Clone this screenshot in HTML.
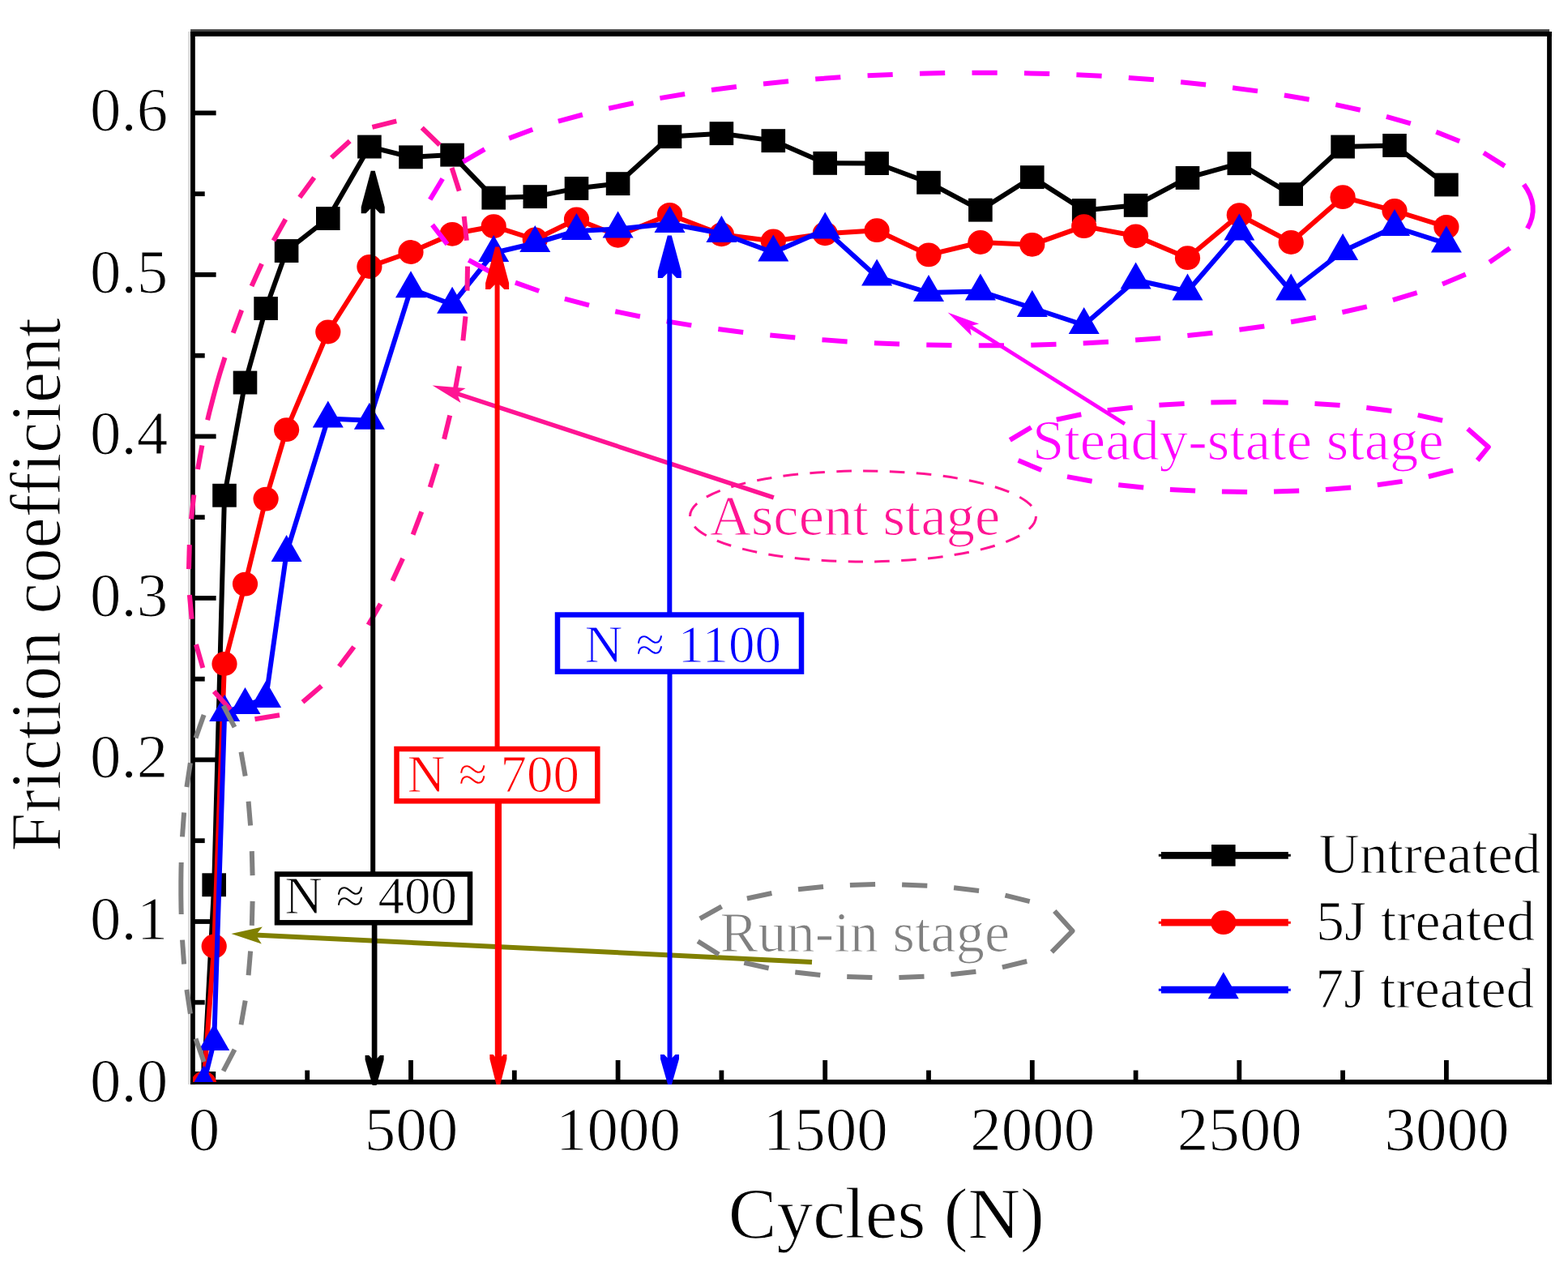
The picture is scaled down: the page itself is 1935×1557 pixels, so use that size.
<!DOCTYPE html>
<html lang="en"><head><meta charset="utf-8"><title>Friction coefficient vs cycles</title>
<style>html,body{margin:0;padding:0;background:#fff}body{width:1935px;height:1557px;overflow:hidden}svg{display:block}text{font-family:"Liberation Serif",serif;stroke:#fff;stroke-width:1.1px;paint-order:fill stroke;stroke-linejoin:round}</style>
</head><body>
<svg width="1935" height="1557" viewBox="0 0 1935 1557" role="img" aria-label="Friction coefficient versus cycles">
<defs><clipPath id="plot"><rect x="238" y="40" width="1674" height="1295"/></clipPath></defs>
<rect x="0" y="0" width="1935" height="1557" fill="#fff"/>
<g stroke="#000" fill="none">
<g stroke="none">
<rect x="235.1" y="36.1" width="1677" height="3" fill="#444"/>
<rect x="232" y="39" width="3.2" height="1298.9" fill="#ddd"/>
<rect x="235.1" y="39" width="1679.8" height="5.9" fill="#000"/>
<rect x="235.1" y="1332" width="1679.8" height="5.9" fill="#000"/>
<rect x="235.1" y="39" width="5.7" height="1298.9" fill="#000"/>
<rect x="1909.1" y="39" width="5.8" height="1298.9" fill="#000"/>
</g>
<g stroke-width="5.8">
<line x1="238" y1="1137.0" x2="266.6" y2="1137.0"/>
<line x1="238" y1="937.4" x2="266.6" y2="937.4"/>
<line x1="238" y1="737.9" x2="266.6" y2="737.9"/>
<line x1="238" y1="538.4" x2="266.6" y2="538.4"/>
<line x1="238" y1="338.9" x2="266.6" y2="338.9"/>
<line x1="238" y1="139.4" x2="266.6" y2="139.4"/>
<line x1="238" y1="1236.7" x2="252.7" y2="1236.7"/>
<line x1="238" y1="1037.2" x2="252.7" y2="1037.2"/>
<line x1="238" y1="837.7" x2="252.7" y2="837.7"/>
<line x1="238" y1="638.2" x2="252.7" y2="638.2"/>
<line x1="238" y1="438.7" x2="252.7" y2="438.7"/>
<line x1="238" y1="239.2" x2="252.7" y2="239.2"/>
<line x1="251.4" y1="1335" x2="251.4" y2="1308"/>
<line x1="507.0" y1="1335" x2="507.0" y2="1308"/>
<line x1="762.6" y1="1335" x2="762.6" y2="1308"/>
<line x1="1018.2" y1="1335" x2="1018.2" y2="1308"/>
<line x1="1273.8" y1="1335" x2="1273.8" y2="1308"/>
<line x1="1529.3" y1="1335" x2="1529.3" y2="1308"/>
<line x1="1784.9" y1="1335" x2="1784.9" y2="1308"/>
<line x1="379.2" y1="1335" x2="379.2" y2="1320.5"/>
<line x1="634.8" y1="1335" x2="634.8" y2="1320.5"/>
<line x1="890.4" y1="1335" x2="890.4" y2="1320.5"/>
<line x1="1146.0" y1="1335" x2="1146.0" y2="1320.5"/>
<line x1="1401.6" y1="1335" x2="1401.6" y2="1320.5"/>
<line x1="1657.1" y1="1335" x2="1657.1" y2="1320.5"/>
</g></g>
<g clip-path="url(#plot)">
<g id="s-black">
<g fill="none" stroke="#000" stroke-linecap="round">
<line x1="251.4" y1="1336.5" x2="264.2" y2="1091.8" stroke-width="6.00"/>
<line x1="264.2" y1="1091.8" x2="277.0" y2="611.3" stroke-width="6.00"/>
<line x1="277.0" y1="611.3" x2="302.5" y2="472.0" stroke-width="6.00"/>
<line x1="302.5" y1="472.0" x2="328.1" y2="380.5" stroke-width="6.00"/>
<line x1="328.1" y1="380.5" x2="353.6" y2="309.5" stroke-width="6.00"/>
<line x1="353.6" y1="309.5" x2="404.8" y2="269.5" stroke-width="6.00"/>
<line x1="404.8" y1="269.5" x2="455.9" y2="181.0" stroke-width="6.00"/>
<line x1="455.9" y1="181.0" x2="507.0" y2="193.8" stroke-width="6.00"/>
<line x1="507.0" y1="193.8" x2="558.1" y2="191.1" stroke-width="6.00"/>
<line x1="558.1" y1="191.1" x2="609.2" y2="244.1" stroke-width="6.00"/>
<line x1="609.2" y1="244.1" x2="660.3" y2="242.6" stroke-width="6.00"/>
<line x1="660.3" y1="242.6" x2="711.5" y2="232.4" stroke-width="6.00"/>
<line x1="711.5" y1="232.4" x2="762.6" y2="226.6" stroke-width="6.00"/>
<line x1="762.6" y1="226.6" x2="826.5" y2="168.6" stroke-width="6.00"/>
<line x1="826.5" y1="168.6" x2="890.4" y2="164.7" stroke-width="6.00"/>
<line x1="890.4" y1="164.7" x2="954.3" y2="173.6" stroke-width="6.00"/>
<line x1="954.3" y1="173.6" x2="1018.2" y2="201.3" stroke-width="6.00"/>
<line x1="1018.2" y1="201.3" x2="1082.1" y2="201.5" stroke-width="6.00"/>
<line x1="1082.1" y1="201.5" x2="1146.0" y2="225.2" stroke-width="6.00"/>
<line x1="1146.0" y1="225.2" x2="1209.9" y2="259.1" stroke-width="6.00"/>
<line x1="1209.9" y1="259.1" x2="1273.8" y2="218.6" stroke-width="6.00"/>
<line x1="1273.8" y1="218.6" x2="1337.7" y2="259.5" stroke-width="6.00"/>
<line x1="1337.7" y1="259.5" x2="1401.6" y2="253.3" stroke-width="6.00"/>
<line x1="1401.6" y1="253.3" x2="1465.5" y2="219.4" stroke-width="6.00"/>
<line x1="1465.5" y1="219.4" x2="1529.3" y2="201.7" stroke-width="6.00"/>
<line x1="1529.3" y1="201.7" x2="1593.2" y2="239.6" stroke-width="6.00"/>
<line x1="1593.2" y1="239.6" x2="1657.1" y2="181.0" stroke-width="6.00"/>
<line x1="1657.1" y1="181.0" x2="1721.0" y2="179.4" stroke-width="6.00"/>
<line x1="1721.0" y1="179.4" x2="1784.9" y2="227.9" stroke-width="6.00"/>
</g>
<rect x="236.6" y="1322.0" width="29.6" height="28.9" fill="#000"/>
<rect x="249.4" y="1077.3" width="29.6" height="28.9" fill="#000"/>
<rect x="262.2" y="596.8" width="29.6" height="28.9" fill="#000"/>
<rect x="287.7" y="457.6" width="29.6" height="28.9" fill="#000"/>
<rect x="313.3" y="366.1" width="29.6" height="28.9" fill="#000"/>
<rect x="338.8" y="295.1" width="29.6" height="28.9" fill="#000"/>
<rect x="390.0" y="255.1" width="29.6" height="28.9" fill="#000"/>
<rect x="441.1" y="166.6" width="29.6" height="28.9" fill="#000"/>
<rect x="492.2" y="179.4" width="29.6" height="28.9" fill="#000"/>
<rect x="543.3" y="176.7" width="29.6" height="28.9" fill="#000"/>
<rect x="594.4" y="229.7" width="29.6" height="28.9" fill="#000"/>
<rect x="645.5" y="228.2" width="29.6" height="28.9" fill="#000"/>
<rect x="696.7" y="218.0" width="29.6" height="28.9" fill="#000"/>
<rect x="747.8" y="212.2" width="29.6" height="28.9" fill="#000"/>
<rect x="811.7" y="154.2" width="29.6" height="28.9" fill="#000"/>
<rect x="875.6" y="150.2" width="29.6" height="28.9" fill="#000"/>
<rect x="939.5" y="159.2" width="29.6" height="28.9" fill="#000"/>
<rect x="1003.4" y="186.9" width="29.6" height="28.9" fill="#000"/>
<rect x="1067.3" y="187.1" width="29.6" height="28.9" fill="#000"/>
<rect x="1131.2" y="210.8" width="29.6" height="28.9" fill="#000"/>
<rect x="1195.1" y="244.7" width="29.6" height="28.9" fill="#000"/>
<rect x="1259.0" y="204.2" width="29.6" height="28.9" fill="#000"/>
<rect x="1322.9" y="245.1" width="29.6" height="28.9" fill="#000"/>
<rect x="1386.8" y="238.9" width="29.6" height="28.9" fill="#000"/>
<rect x="1450.7" y="205.0" width="29.6" height="28.9" fill="#000"/>
<rect x="1514.5" y="187.2" width="29.6" height="28.9" fill="#000"/>
<rect x="1578.4" y="225.2" width="29.6" height="28.9" fill="#000"/>
<rect x="1642.3" y="166.6" width="29.6" height="28.9" fill="#000"/>
<rect x="1706.2" y="165.0" width="29.6" height="28.9" fill="#000"/>
<rect x="1770.1" y="213.5" width="29.6" height="28.9" fill="#000"/>
</g>
<g id="s-red">
<g fill="none" stroke="#ff0000" stroke-linecap="round">
<line x1="251.4" y1="1336.5" x2="264.2" y2="1167.5" stroke-width="6.00"/>
<line x1="264.2" y1="1167.5" x2="277.0" y2="819.0" stroke-width="6.00"/>
<line x1="277.0" y1="819.0" x2="302.5" y2="720.6" stroke-width="6.00"/>
<line x1="302.5" y1="720.6" x2="328.1" y2="615.6" stroke-width="6.00"/>
<line x1="328.1" y1="615.6" x2="353.6" y2="530.2" stroke-width="6.00"/>
<line x1="353.6" y1="530.2" x2="404.8" y2="409.5" stroke-width="6.00"/>
<line x1="404.8" y1="409.5" x2="455.9" y2="329.0" stroke-width="6.00"/>
<line x1="455.9" y1="329.0" x2="507.0" y2="311.0" stroke-width="6.00"/>
<line x1="507.0" y1="311.0" x2="558.1" y2="288.8" stroke-width="6.00"/>
<line x1="558.1" y1="288.8" x2="609.2" y2="279.2" stroke-width="6.00"/>
<line x1="609.2" y1="279.2" x2="660.3" y2="295.5" stroke-width="6.00"/>
<line x1="660.3" y1="295.5" x2="711.5" y2="270.5" stroke-width="6.00"/>
<line x1="711.5" y1="270.5" x2="762.6" y2="290.8" stroke-width="6.00"/>
<line x1="762.6" y1="290.8" x2="826.5" y2="264.8" stroke-width="6.00"/>
<line x1="826.5" y1="264.8" x2="890.4" y2="289.3" stroke-width="6.00"/>
<line x1="890.4" y1="289.3" x2="954.3" y2="297.5" stroke-width="6.00"/>
<line x1="954.3" y1="297.5" x2="1018.2" y2="288.3" stroke-width="6.00"/>
<line x1="1018.2" y1="288.3" x2="1082.1" y2="284.2" stroke-width="6.00"/>
<line x1="1082.1" y1="284.2" x2="1146.0" y2="314.4" stroke-width="6.00"/>
<line x1="1146.0" y1="314.4" x2="1209.9" y2="299.0" stroke-width="6.00"/>
<line x1="1209.9" y1="299.0" x2="1273.8" y2="301.8" stroke-width="6.00"/>
<line x1="1273.8" y1="301.8" x2="1337.7" y2="279.1" stroke-width="6.00"/>
<line x1="1337.7" y1="279.1" x2="1401.6" y2="291.3" stroke-width="6.00"/>
<line x1="1401.6" y1="291.3" x2="1465.5" y2="318.2" stroke-width="6.00"/>
<line x1="1465.5" y1="318.2" x2="1529.3" y2="265.2" stroke-width="6.00"/>
<line x1="1529.3" y1="265.2" x2="1593.2" y2="299.0" stroke-width="6.00"/>
<line x1="1593.2" y1="299.0" x2="1657.1" y2="243.2" stroke-width="6.00"/>
<line x1="1657.1" y1="243.2" x2="1721.0" y2="260.0" stroke-width="6.00"/>
<line x1="1721.0" y1="260.0" x2="1784.9" y2="279.9" stroke-width="6.00"/>
</g>
<ellipse cx="251.4" cy="1336.5" rx="15.6" ry="14.9" fill="#ff0000"/>
<ellipse cx="264.2" cy="1167.5" rx="15.6" ry="14.9" fill="#ff0000"/>
<ellipse cx="277.0" cy="819.0" rx="15.6" ry="14.9" fill="#ff0000"/>
<ellipse cx="302.5" cy="720.6" rx="15.6" ry="14.9" fill="#ff0000"/>
<ellipse cx="328.1" cy="615.6" rx="15.6" ry="14.9" fill="#ff0000"/>
<ellipse cx="353.6" cy="530.2" rx="15.6" ry="14.9" fill="#ff0000"/>
<ellipse cx="404.8" cy="409.5" rx="15.6" ry="14.9" fill="#ff0000"/>
<ellipse cx="455.9" cy="329.0" rx="15.6" ry="14.9" fill="#ff0000"/>
<ellipse cx="507.0" cy="311.0" rx="15.6" ry="14.9" fill="#ff0000"/>
<ellipse cx="558.1" cy="288.8" rx="15.6" ry="14.9" fill="#ff0000"/>
<ellipse cx="609.2" cy="279.2" rx="15.6" ry="14.9" fill="#ff0000"/>
<ellipse cx="660.3" cy="295.5" rx="15.6" ry="14.9" fill="#ff0000"/>
<ellipse cx="711.5" cy="270.5" rx="15.6" ry="14.9" fill="#ff0000"/>
<ellipse cx="762.6" cy="290.8" rx="15.6" ry="14.9" fill="#ff0000"/>
<ellipse cx="826.5" cy="264.8" rx="15.6" ry="14.9" fill="#ff0000"/>
<ellipse cx="890.4" cy="289.3" rx="15.6" ry="14.9" fill="#ff0000"/>
<ellipse cx="954.3" cy="297.5" rx="15.6" ry="14.9" fill="#ff0000"/>
<ellipse cx="1018.2" cy="288.3" rx="15.6" ry="14.9" fill="#ff0000"/>
<ellipse cx="1082.1" cy="284.2" rx="15.6" ry="14.9" fill="#ff0000"/>
<ellipse cx="1146.0" cy="314.4" rx="15.6" ry="14.9" fill="#ff0000"/>
<ellipse cx="1209.9" cy="299.0" rx="15.6" ry="14.9" fill="#ff0000"/>
<ellipse cx="1273.8" cy="301.8" rx="15.6" ry="14.9" fill="#ff0000"/>
<ellipse cx="1337.7" cy="279.1" rx="15.6" ry="14.9" fill="#ff0000"/>
<ellipse cx="1401.6" cy="291.3" rx="15.6" ry="14.9" fill="#ff0000"/>
<ellipse cx="1465.5" cy="318.2" rx="15.6" ry="14.9" fill="#ff0000"/>
<ellipse cx="1529.3" cy="265.2" rx="15.6" ry="14.9" fill="#ff0000"/>
<ellipse cx="1593.2" cy="299.0" rx="15.6" ry="14.9" fill="#ff0000"/>
<ellipse cx="1657.1" cy="243.2" rx="15.6" ry="14.9" fill="#ff0000"/>
<ellipse cx="1721.0" cy="260.0" rx="15.6" ry="14.9" fill="#ff0000"/>
<ellipse cx="1784.9" cy="279.9" rx="15.6" ry="14.9" fill="#ff0000"/>
</g>
<g id="s-blue">
<g fill="none" stroke="#0000ff" stroke-linecap="round">
<line x1="251.4" y1="1336.5" x2="264.2" y2="1285.0" stroke-width="6.00"/>
<line x1="264.2" y1="1285.0" x2="277.2" y2="879.0" stroke-width="6.00"/>
<line x1="277.2" y1="879.0" x2="302.5" y2="870.0" stroke-width="6.00"/>
<line x1="302.5" y1="870.0" x2="328.1" y2="862.0" stroke-width="6.00"/>
<line x1="328.1" y1="862.0" x2="353.6" y2="682.0" stroke-width="6.00"/>
<line x1="353.6" y1="682.0" x2="404.8" y2="516.5" stroke-width="6.00"/>
<line x1="404.8" y1="516.5" x2="455.9" y2="518.7" stroke-width="6.00"/>
<line x1="455.9" y1="518.7" x2="507.0" y2="356.3" stroke-width="6.00"/>
<line x1="507.0" y1="356.3" x2="558.1" y2="375.7" stroke-width="6.00"/>
<line x1="558.1" y1="375.7" x2="609.2" y2="312.0" stroke-width="6.00"/>
<line x1="609.2" y1="312.0" x2="660.3" y2="300.0" stroke-width="6.00"/>
<line x1="660.3" y1="300.0" x2="711.5" y2="285.0" stroke-width="6.00"/>
<line x1="711.5" y1="285.0" x2="762.6" y2="282.5" stroke-width="6.00"/>
<line x1="762.6" y1="282.5" x2="826.5" y2="276.0" stroke-width="6.00"/>
<line x1="826.5" y1="276.0" x2="890.4" y2="288.0" stroke-width="6.00"/>
<line x1="890.4" y1="288.0" x2="954.3" y2="311.5" stroke-width="6.00"/>
<line x1="954.3" y1="311.5" x2="1018.2" y2="283.6" stroke-width="6.00"/>
<line x1="1018.2" y1="283.6" x2="1082.1" y2="341.5" stroke-width="6.00"/>
<line x1="1082.1" y1="341.5" x2="1146.0" y2="361.0" stroke-width="6.00"/>
<line x1="1146.0" y1="361.0" x2="1209.9" y2="359.5" stroke-width="6.00"/>
<line x1="1209.9" y1="359.5" x2="1273.8" y2="380.0" stroke-width="6.00"/>
<line x1="1273.8" y1="380.0" x2="1337.7" y2="401.0" stroke-width="6.00"/>
<line x1="1337.7" y1="401.0" x2="1401.6" y2="345.5" stroke-width="6.00"/>
<line x1="1401.6" y1="345.5" x2="1465.5" y2="359.5" stroke-width="6.00"/>
<line x1="1465.5" y1="359.5" x2="1529.3" y2="285.5" stroke-width="6.00"/>
<line x1="1529.3" y1="285.5" x2="1593.2" y2="359.5" stroke-width="6.00"/>
<line x1="1593.2" y1="359.5" x2="1657.1" y2="310.0" stroke-width="6.00"/>
<line x1="1657.1" y1="310.0" x2="1721.0" y2="280.0" stroke-width="6.00"/>
<line x1="1721.0" y1="280.0" x2="1784.9" y2="300.5" stroke-width="6.00"/>
</g>
<polygon points="251.4,1314.5 232.4,1347.5 270.4,1347.5" fill="#0000ff"/>
<polygon points="264.2,1263.0 245.2,1296.0 283.2,1296.0" fill="#0000ff"/>
<polygon points="277.2,857.0 258.2,890.0 296.2,890.0" fill="#0000ff"/>
<polygon points="302.5,848.0 283.5,881.0 321.5,881.0" fill="#0000ff"/>
<polygon points="328.1,840.0 309.1,873.0 347.1,873.0" fill="#0000ff"/>
<polygon points="353.6,660.0 334.6,693.0 372.6,693.0" fill="#0000ff"/>
<polygon points="404.8,494.5 385.8,527.5 423.8,527.5" fill="#0000ff"/>
<polygon points="455.9,496.7 436.9,529.7 474.9,529.7" fill="#0000ff"/>
<polygon points="507.0,334.3 488.0,367.3 526.0,367.3" fill="#0000ff"/>
<polygon points="558.1,353.7 539.1,386.7 577.1,386.7" fill="#0000ff"/>
<polygon points="609.2,290.0 590.2,323.0 628.2,323.0" fill="#0000ff"/>
<polygon points="660.3,278.0 641.3,311.0 679.3,311.0" fill="#0000ff"/>
<polygon points="711.5,263.0 692.5,296.0 730.5,296.0" fill="#0000ff"/>
<polygon points="762.6,260.5 743.6,293.5 781.6,293.5" fill="#0000ff"/>
<polygon points="826.5,254.0 807.5,287.0 845.5,287.0" fill="#0000ff"/>
<polygon points="890.4,266.0 871.4,299.0 909.4,299.0" fill="#0000ff"/>
<polygon points="954.3,289.5 935.3,322.5 973.3,322.5" fill="#0000ff"/>
<polygon points="1018.2,261.6 999.2,294.6 1037.2,294.6" fill="#0000ff"/>
<polygon points="1082.1,319.5 1063.1,352.5 1101.1,352.5" fill="#0000ff"/>
<polygon points="1146.0,339.0 1127.0,372.0 1165.0,372.0" fill="#0000ff"/>
<polygon points="1209.9,337.5 1190.9,370.5 1228.9,370.5" fill="#0000ff"/>
<polygon points="1273.8,358.0 1254.8,391.0 1292.8,391.0" fill="#0000ff"/>
<polygon points="1337.7,379.0 1318.7,412.0 1356.7,412.0" fill="#0000ff"/>
<polygon points="1401.6,323.5 1382.6,356.5 1420.6,356.5" fill="#0000ff"/>
<polygon points="1465.5,337.5 1446.5,370.5 1484.5,370.5" fill="#0000ff"/>
<polygon points="1529.3,263.5 1510.3,296.5 1548.3,296.5" fill="#0000ff"/>
<polygon points="1593.2,337.5 1574.2,370.5 1612.2,370.5" fill="#0000ff"/>
<polygon points="1657.1,288.0 1638.1,321.0 1676.1,321.0" fill="#0000ff"/>
<polygon points="1721.0,258.0 1702.0,291.0 1740.0,291.0" fill="#0000ff"/>
<polygon points="1784.9,278.5 1765.9,311.5 1803.9,311.5" fill="#0000ff"/>
</g>
</g>
<g font-size="77" fill="#000">
<text x="111" y="1358.5">0.0</text>
<text x="111" y="1159.0">0.1</text>
<text x="111" y="959.4">0.2</text>
<text x="111" y="759.9">0.3</text>
<text x="111" y="560.4">0.4</text>
<text x="111" y="360.9">0.5</text>
<text x="111" y="161.4">0.6</text>
<text x="251.9" y="1419" text-anchor="middle">0</text>
<text x="507.5" y="1419" text-anchor="middle">500</text>
<text x="763.1" y="1419" text-anchor="middle">1000</text>
<text x="1018.7" y="1419" text-anchor="middle">1500</text>
<text x="1274.3" y="1419" text-anchor="middle">2000</text>
<text x="1529.8" y="1419" text-anchor="middle">2500</text>
<text x="1785.4" y="1419" text-anchor="middle">3000</text>
</g>
<text x="898.7" y="1527" font-size="89.5" fill="#000">Cycles (N)</text>
<text transform="translate(73.8 1050.5) scale(1.04 1) rotate(-90)" font-size="85.8" fill="#000">Friction coefficient</text>
<g fill="none" stroke="#ff1493" stroke-linejoin="round">
<path d="M256.1,518.3 L258.4,508.6 L260.9,498.9 L263.4,489.2 L266.0,479.5 L268.7,469.8 L271.5,460.2 L274.5,450.6 L277.5,441.0" stroke-width="6.00"/>
<path d="M287.7,410.8 L298.2,382.6" stroke-width="6.00"/>
<path d="M310.5,353.0 L323.0,325.5" stroke-width="6.00"/>
<path d="M337.5,296.9 L352.4,270.6" stroke-width="6.00"/>
<path d="M369.8,243.5 L387.7,219.0" stroke-width="6.00"/>
<path d="M409.0,194.6 L431.7,174.0" stroke-width="6.00"/>
<path d="M459.4,156.8 L489.3,149.3" stroke-width="6.00"/>
<path d="M520.7,157.6 L542.6,178.8" stroke-width="6.00"/>
<path d="M557.6,207.0 L566.7,235.7" stroke-width="6.00"/>
<path d="M572.7,267.0 L575.8,296.8" stroke-width="6.00"/>
<path d="M577.0,328.6 L576.5,358.6" stroke-width="6.00"/>
<path d="M574.5,390.4 L571.4,420.2" stroke-width="6.00"/>
<path d="M567.0,451.7 L561.7,481.3" stroke-width="6.00"/>
<path d="M555.2,512.5 L548.1,541.7" stroke-width="6.00"/>
<path d="M539.6,572.4 L530.7,601.2" stroke-width="6.00"/>
<path d="M520.3,631.4 L509.6,659.6" stroke-width="6.00"/>
<path d="M497.1,689.0 L484.4,716.4" stroke-width="6.00"/>
<path d="M469.6,744.9 L454.5,771.1" stroke-width="6.00"/>
<path d="M436.8,798.0 L418.5,822.3" stroke-width="6.00"/>
<path d="M396.8,846.2 L373.5,866.2" stroke-width="6.00"/>
<path d="M345.0,882.2 L314.5,887.2" stroke-width="6.00"/>
<path d="M284.3,875.6 L264.1,852.9" stroke-width="6.00"/>
<path d="M250.3,824.0 L242.0,795.1" stroke-width="6.00"/>
<path d="M236.6,763.8 L233.9,733.9" stroke-width="6.00"/>
<path d="M233.0,702.1 L233.8,672.1" stroke-width="6.00"/>
<path d="M236.0,640.4 L239.3,610.5" stroke-width="6.00"/>
<path d="M244.0,579.0 L249.4,549.5" stroke-width="6.00"/>
</g>
<g fill="none" stroke="#808080" stroke-linejoin="round">
<path d="M223.7,1128.0 L223.5,1120.0 L223.4,1112.0 L223.3,1104.0 L223.3,1096.0 L223.3,1088.0 L223.4,1080.0 L223.5,1072.0 L223.7,1064.0" stroke-width="6.00"/>
<path d="M225.0,1032.4 L227.1,1002.5" stroke-width="6.00"/>
<path d="M230.4,971.0 L234.9,941.3" stroke-width="6.00"/>
<path d="M241.5,910.4 L251.6,882.1" stroke-width="6.00"/>
<path d="M275.6,870.6 L289.5,897.1" stroke-width="6.00"/>
<path d="M297.5,927.8 L302.7,957.4" stroke-width="6.00"/>
<path d="M306.6,988.7 L309.1,1018.6" stroke-width="6.00"/>
<path d="M310.8,1050.2 L311.6,1080.2" stroke-width="6.00"/>
<path d="M311.6,1111.8 L310.8,1141.8" stroke-width="6.00"/>
<path d="M309.1,1173.4 L306.6,1203.3" stroke-width="6.00"/>
<path d="M302.7,1234.6 L297.5,1264.2" stroke-width="6.00"/>
<path d="M289.5,1294.9 L275.6,1321.4" stroke-width="6.00"/>
<path d="M251.6,1309.9 L241.5,1281.6" stroke-width="6.00"/>
<path d="M234.9,1250.7 L230.4,1221.0" stroke-width="6.00"/>
<path d="M227.1,1189.5 L225.0,1159.6" stroke-width="6.00"/>
</g>
<g fill="none" stroke="#ff00ff" stroke-linejoin="round">
<path d="M1880.5,227.5 L1884.6,233.6 L1887.9,240.1 L1890.3,246.9 L1891.6,254.1 L1891.7,261.3 L1890.5,268.5 L1888.2,275.3 L1884.9,281.9" stroke-width="6.00"/>
<path d="M1863.4,306.1 L1838.1,323.5" stroke-width="6.00"/>
<path d="M1808.7,338.6 L1780.0,350.4" stroke-width="6.00"/>
<path d="M1748.7,361.2 L1718.9,370.1" stroke-width="6.00"/>
<path d="M1686.8,378.4 L1656.4,385.3" stroke-width="6.00"/>
<path d="M1623.8,391.8 L1593.1,397.3" stroke-width="6.00"/>
<path d="M1560.3,402.5 L1529.4,406.8" stroke-width="6.00"/>
<path d="M1496.4,410.8 L1465.4,414.1" stroke-width="6.00"/>
<path d="M1432.2,417.2 L1401.1,419.6" stroke-width="6.00"/>
<path d="M1367.9,421.8 L1336.7,423.4" stroke-width="6.00"/>
<path d="M1303.5,424.8 L1272.3,425.7" stroke-width="6.00"/>
<path d="M1239.0,426.2 L1207.8,426.3" stroke-width="6.00"/>
<path d="M1174.5,426.1 L1143.3,425.5" stroke-width="6.00"/>
<path d="M1110.0,424.5 L1078.9,423.2" stroke-width="6.00"/>
<path d="M1045.6,421.4 L1014.5,419.2" stroke-width="6.00"/>
<path d="M981.3,416.6 L950.3,413.6" stroke-width="6.00"/>
<path d="M917.2,410.0 L886.3,406.1" stroke-width="6.00"/>
<path d="M853.3,401.4 L822.6,396.4" stroke-width="6.00"/>
<path d="M789.9,390.5 L759.3,384.2" stroke-width="6.00"/>
<path d="M727.0,376.7 L696.9,368.7" stroke-width="6.00"/>
<path d="M665.2,359.0 L635.9,348.6" stroke-width="6.00"/>
<path d="M605.5,335.5 L578.3,320.9" stroke-width="6.00"/>
<path d="M552.0,301.4 L533.5,277.4" stroke-width="6.00"/>
<path d="M530.7,246.2 L546.2,220.5" stroke-width="6.00"/>
<path d="M571.4,199.6 L598.1,184.2" stroke-width="6.00"/>
<path d="M628.2,170.6 L657.3,159.7" stroke-width="6.00"/>
<path d="M688.9,149.7 L718.9,141.5" stroke-width="6.00"/>
<path d="M751.2,133.7 L781.7,127.2" stroke-width="6.00"/>
<path d="M814.4,121.1 L845.1,116.0" stroke-width="6.00"/>
<path d="M878.0,111.1 L908.9,107.1" stroke-width="6.00"/>
<path d="M942.0,103.4 L973.0,100.3" stroke-width="6.00"/>
<path d="M1006.2,97.5 L1037.3,95.3" stroke-width="6.00"/>
<path d="M1070.6,93.3 L1101.7,91.9" stroke-width="6.00"/>
<path d="M1135.0,90.8 L1166.2,90.1" stroke-width="6.00"/>
<path d="M1199.5,89.8 L1230.7,89.8" stroke-width="6.00"/>
<path d="M1264.0,90.3 L1295.2,91.1" stroke-width="6.00"/>
<path d="M1328.4,92.3 L1359.6,93.8" stroke-width="6.00"/>
<path d="M1392.8,95.9 L1423.9,98.2" stroke-width="6.00"/>
<path d="M1457.1,101.2 L1488.1,104.4" stroke-width="6.00"/>
<path d="M1521.1,108.3 L1552.0,112.4" stroke-width="6.00"/>
<path d="M1584.9,117.5 L1615.6,122.7" stroke-width="6.00"/>
<path d="M1648.3,129.1 L1678.7,135.8" stroke-width="6.00"/>
<path d="M1710.9,143.8 L1740.8,152.4" stroke-width="6.00"/>
<path d="M1772.3,162.8 L1801.2,174.2" stroke-width="6.00"/>
<path d="M1830.9,188.5 L1857.0,204.9" stroke-width="6.00"/>
</g>
<line x1="1002.0" y1="1186.9" x2="313.8" y2="1153.5" stroke="#808000" stroke-width="6"/>
<polygon fill="#808000" points="285.4,1152.1 323.9,1143.5 315.8,1153.6 322.8,1164.4"/>
<line x1="954.8" y1="613.8" x2="562.1" y2="485.0" stroke="#ff1493" stroke-width="5.5"/>
<polygon fill="#ff1493" points="533.6,475.6 574.6,479.0 564.0,485.6 568.6,497.1"/>
<line x1="1388.0" y1="523.0" x2="1195.0" y2="401.5" stroke="#ff00ff" stroke-width="4.8"/>
<polygon fill="#ff00ff" points="1169.6,385.5 1208.1,399.4 1196.7,402.5 1198.8,414.3"/>
<line x1="460.2" y1="253.8" x2="460.2" y2="1078" stroke="#000" stroke-width="6"/>
<polygon fill="#000" points="457.7,210.8 445.7,255.4 445.7,263.3 451.5,263.3 457.2,257.5 463.2,257.5 468.9,263.3 474.7,263.3 474.7,255.4 462.7,210.8"/>
<line x1="462.1" y1="1138" x2="462.1" y2="1310" stroke="#000" stroke-width="6.7"/>
<polygon fill="#000" points="459.6,1339.0 450.6,1307.5 450.6,1302.0 455.2,1302.0 459.1,1306.1 465.1,1306.1 469.0,1302.0 473.6,1302.0 473.6,1307.5 464.6,1339.0"/>
<line x1="613.6" y1="347.6" x2="613.6" y2="924" stroke="#ff0000" stroke-width="6"/>
<polygon fill="#ff0000" points="611.1,304.6 599.1,349.2 599.1,357.1 604.9,357.1 610.6,351.3 616.6,351.3 622.3,357.1 628.1,357.1 628.1,349.2 616.1,304.6"/>
<line x1="614.9" y1="988" x2="614.9" y2="1309" stroke="#ff0000" stroke-width="8.2"/>
<polygon fill="#ff0000" points="612.4,1338.0 604.4,1306.5 604.4,1301.0 608.6,1301.0 611.9,1305.1 617.9,1305.1 621.2,1301.0 625.4,1301.0 625.4,1306.5 617.4,1338.0"/>
<line x1="826.3" y1="333.5" x2="826.3" y2="758" stroke="#0000ff" stroke-width="6"/>
<polygon fill="#0000ff" points="823.8,290.5 811.8,335.1 811.8,343.0 817.6,343.0 823.3,337.2 829.3,337.2 835.0,343.0 840.8,343.0 840.8,335.1 828.8,290.5"/>
<line x1="826.5" y1="828" x2="826.5" y2="1309" stroke="#0000ff" stroke-width="6"/>
<polygon fill="#0000ff" points="824.0,1338.0 815.0,1306.5 815.0,1301.0 819.6,1301.0 823.5,1305.1 829.5,1305.1 833.4,1301.0 838.0,1301.0 838.0,1306.5 829.0,1338.0"/>
<rect x="342" y="1078.5" width="238" height="59.8" fill="#fff" stroke="#000" stroke-width="6.5"/>
<text x="351.3" y="1127.3" font-size="65" fill="#000">N ≈ 400</text>
<rect x="489.5" y="924" width="247.8" height="64.3" fill="#fff" stroke="#ff0000" stroke-width="6.5"/>
<text x="502.5" y="976.5" font-size="65" fill="#ff0000">N ≈ 700</text>
<rect x="688" y="758.5" width="301" height="70.1" fill="#fff" stroke="#0000ff" stroke-width="6.5"/>
<text x="721.4" y="816.7" font-size="65" fill="#0000ff">N ≈ 1100</text>
<ellipse cx="1065" cy="637" rx="213.5" ry="56" fill="none" stroke="#ff1493" stroke-width="3" stroke-dasharray="18.5 14.37"/>
<g fill="none" stroke="#ff00ff" stroke-linejoin="round">
<path d="M1811.2,528.9 L1836.8,551.4 L1823.2,568.0" stroke-width="6.00"/>
<path d="M1793.1,580.4 L1762.9,588.0" stroke-width="6.00"/>
<path d="M1730.6,593.9 L1699.8,598.2" stroke-width="6.00"/>
<path d="M1667.1,601.5 L1636.0,603.9" stroke-width="6.00"/>
<path d="M1603.2,605.6 L1572.0,606.6" stroke-width="6.00"/>
<path d="M1539.1,606.9 L1507.9,606.6" stroke-width="6.00"/>
<path d="M1475.1,605.6 L1443.9,603.9" stroke-width="6.00"/>
<path d="M1411.2,601.4 L1380.2,598.2" stroke-width="6.00"/>
<path d="M1347.6,593.7 L1317.0,588.1" stroke-width="6.00"/>
<path d="M1285.2,580.0 L1256.6,568.1" stroke-width="6.00"/>
<path d="M1246.3,542.9 L1272.5,527.2" stroke-width="6.00"/>
<path d="M1303.8,517.7 L1334.3,511.3" stroke-width="6.00"/>
<path d="M1366.7,506.3 L1397.7,502.7" stroke-width="6.00"/>
<path d="M1430.4,499.8 L1461.6,497.9" stroke-width="6.00"/>
<path d="M1494.4,496.6 L1525.6,496.0" stroke-width="6.00"/>
<path d="M1558.5,496.0 L1589.7,496.7" stroke-width="6.00"/>
<path d="M1622.5,498.1 L1653.6,500.1" stroke-width="6.00"/>
<path d="M1686.3,503.1 L1717.3,506.9" stroke-width="6.00"/>
<path d="M1749.7,512.1 L1780.1,518.8" stroke-width="6.00"/>
</g>
<g fill="none" stroke="#808080" stroke-linejoin="round">
<path d="M1301.3,1124.1 L1323.5,1148.6 L1297.9,1174.7" stroke-width="6.00"/>
<path d="M1267.2,1186.0 L1236.9,1193.3" stroke-width="6.00"/>
<path d="M1204.4,1198.7 L1173.4,1202.3" stroke-width="6.00"/>
<path d="M1140.5,1204.7 L1109.4,1205.9" stroke-width="6.00"/>
<path d="M1076.4,1206.0 L1045.2,1205.1" stroke-width="6.00"/>
<path d="M1012.3,1202.9 L981.3,1199.6" stroke-width="6.00"/>
<path d="M948.7,1194.5 L918.3,1187.8" stroke-width="6.00"/>
<path d="M887.1,1177.5 L861.2,1161.2" stroke-width="6.00"/>
<path d="M863.8,1133.4 L890.6,1118.3" stroke-width="6.00"/>
<path d="M921.9,1108.5 L952.4,1102.0" stroke-width="6.00"/>
<path d="M985.0,1097.2 L1016.0,1094.0" stroke-width="6.00"/>
<path d="M1048.9,1092.0 L1080.1,1091.1" stroke-width="6.00"/>
<path d="M1113.1,1091.4 L1144.3,1092.7" stroke-width="6.00"/>
<path d="M1177.1,1095.3 L1208.1,1099.0" stroke-width="6.00"/>
<path d="M1240.5,1104.7 L1270.7,1112.2" stroke-width="6.00"/>
</g>
<text x="876" y="660" font-size="70.5" fill="#ff1493">Ascent stage</text>
<text x="1274" y="567" font-size="70.6" fill="#ff00ff">Steady-state stage</text>
<text x="888.4" y="1174" font-size="70.4" fill="#808080">Run-in stage</text>
<line x1="1432.9" y1="1055.3" x2="1589.8" y2="1055.3" stroke="#000" stroke-width="8.8"/>
<line x1="1429.8" y1="1055.3" x2="1592.8" y2="1055.3" stroke="#000" stroke-width="3"/>
<line x1="1432.9" y1="1138.2" x2="1589.8" y2="1138.2" stroke="#ff0000" stroke-width="8.8"/>
<line x1="1429.8" y1="1138.2" x2="1592.8" y2="1138.2" stroke="#ff0000" stroke-width="3"/>
<line x1="1432.9" y1="1221.2" x2="1589.8" y2="1221.2" stroke="#0000ff" stroke-width="8.8"/>
<line x1="1429.8" y1="1221.2" x2="1592.8" y2="1221.2" stroke="#0000ff" stroke-width="3"/>
<rect x="1495.0" y="1042.1" width="29.6" height="26.6" fill="#000"/>
<ellipse cx="1509.8" cy="1138.2" rx="15.6" ry="14.9" fill="#ff0000"/>
<polygon points="1509.8,1199.2 1490.8,1232.2 1528.8,1232.2" fill="#0000ff"/>
<text x="1627.5" y="1077.3" font-size="69.5" fill="#000">Untreated</text>
<text x="1624" y="1160.2" font-size="70" fill="#000">5J treated</text>
<text x="1623.3" y="1243.2" font-size="70" fill="#000">7J treated</text>
</svg></body></html>
